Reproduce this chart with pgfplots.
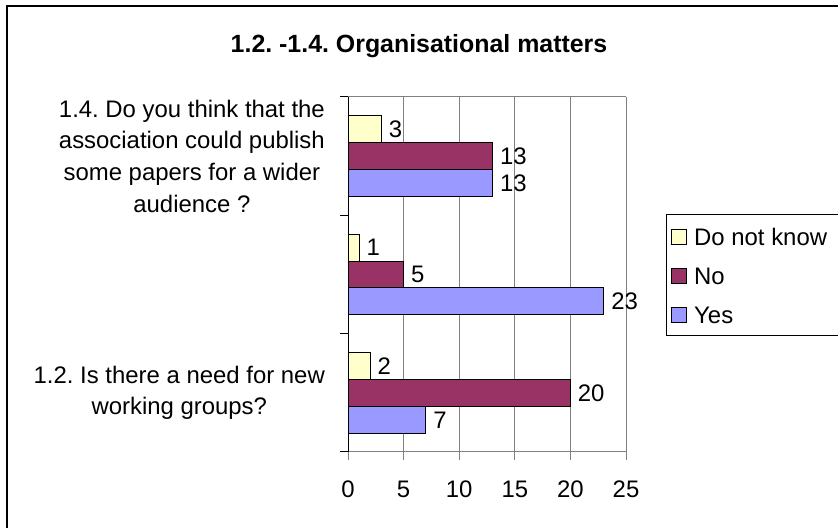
\documentclass[border=0pt]{standalone}
\usepackage{fontspec}
\setmainfont{Liberation Sans}
\usepackage{pgfplots}
\pgfplotsset{compat=1.18}
\definecolor{dnk}{HTML}{FFFFCC}
\definecolor{nocol}{HTML}{993366}
\definecolor{yescol}{HTML}{9999FF}
\definecolor{gridc}{HTML}{808080}
\newcommand{\bodyfont}{\fontsize{24}{31.7}\selectfont}
\frenchspacing
\begin{document}
\frenchspacing
\begin{tikzpicture}[x=1bp,y=1bp]
\useasboundingbox (0,0) rectangle (838,528);
\clip (0,0) rectangle (838,528);
\draw[line width=1.5bp] (7,-20) rectangle (860,522);
\node[font=\fontsize{25}{30}\selectfont\bfseries] at (419,482) {1.2. -1.4. Organisational matters};
\draw[line width=1bp] (666,192) rectangle (860,313);
\begin{axis}[
  at={(348bp,76bp)}, anchor=south west,
  scale only axis, width=278bp, height=355bp,
  xbar, bar width=0.228,
  xmin=0, xmax=25, ymin=-0.5, ymax=2.5,
  xtick={0,5,10,15,20,25},
  ytick={-0.5,0.5,1.5,2.5},
  yticklabels={},
  extra y ticks={0,2},
  extra y tick labels={{1.2. Is there a need for new\\working groups?},{1.4. Do you think that the\\association could publish\\some papers for a wider\\audience ?}},
  extra y tick style={major tick length=0pt, yticklabel style={align=center, font=\bodyfont, inner sep=0pt, xshift=-23bp}},
  xmajorgrids, grid style={gridc, line width=1bp},
  axis x line*=bottom, axis y line*=left,
  x axis line style={-, draw=gridc, line width=1bp},
  y axis line style={-, draw=black, line width=1bp},
  major tick length=8bp, tick align=outside,
  xtick style={draw=gridc, line width=1bp},
  ytick style={draw=black, line width=1bp},
  tick label style={font=\bodyfont},
  xticklabel style={inner sep=0pt, yshift=-21bp},
  /pgf/number format/assume math mode=true,
  nodes near coords,
  every node near coord/.append style={font=\bodyfont, anchor=west, inner sep=0pt, xshift=7bp},
  legend style={draw=none, fill=none, at={(1.1619,0.6310)}, anchor=north west,
    inner xsep=0pt, inner ysep=0pt, row sep=17bp, column sep=7bp,
    nodes={inner sep=0pt, text height=17bp, text depth=5bp, font=\bodyfont}},
  legend cell align=left,
  clip=false,
]
\addplot[fill=dnk, draw=black, line width=1bp, bar shift=0.228,
  legend image code/.code={\draw[fill=dnk, draw=black, line width=1bp] (0bp,-5bp) rectangle (15bp,10bp);}]
  coordinates {(2,0) (1,1) (3,2)};
\addplot[fill=nocol, draw=black, line width=1bp, bar shift=0,
  legend image code/.code={\draw[fill=nocol, draw=black, line width=1bp] (0bp,-5bp) rectangle (15bp,10bp);}]
  coordinates {(20,0) (5,1) (13,2)};
\addplot[fill=yescol, draw=black, line width=1bp, bar shift=-0.228,
  legend image code/.code={\draw[fill=yescol, draw=black, line width=1bp] (0bp,-5bp) rectangle (15bp,10bp);}]
  coordinates {(7,0) (23,1) (13,2)};
\legend{Do not know, No, Yes}
\draw[gridc, line width=1bp] (axis cs:0,2.5) -- (axis cs:25,2.5);
\end{axis}
\end{tikzpicture}
\end{document}
